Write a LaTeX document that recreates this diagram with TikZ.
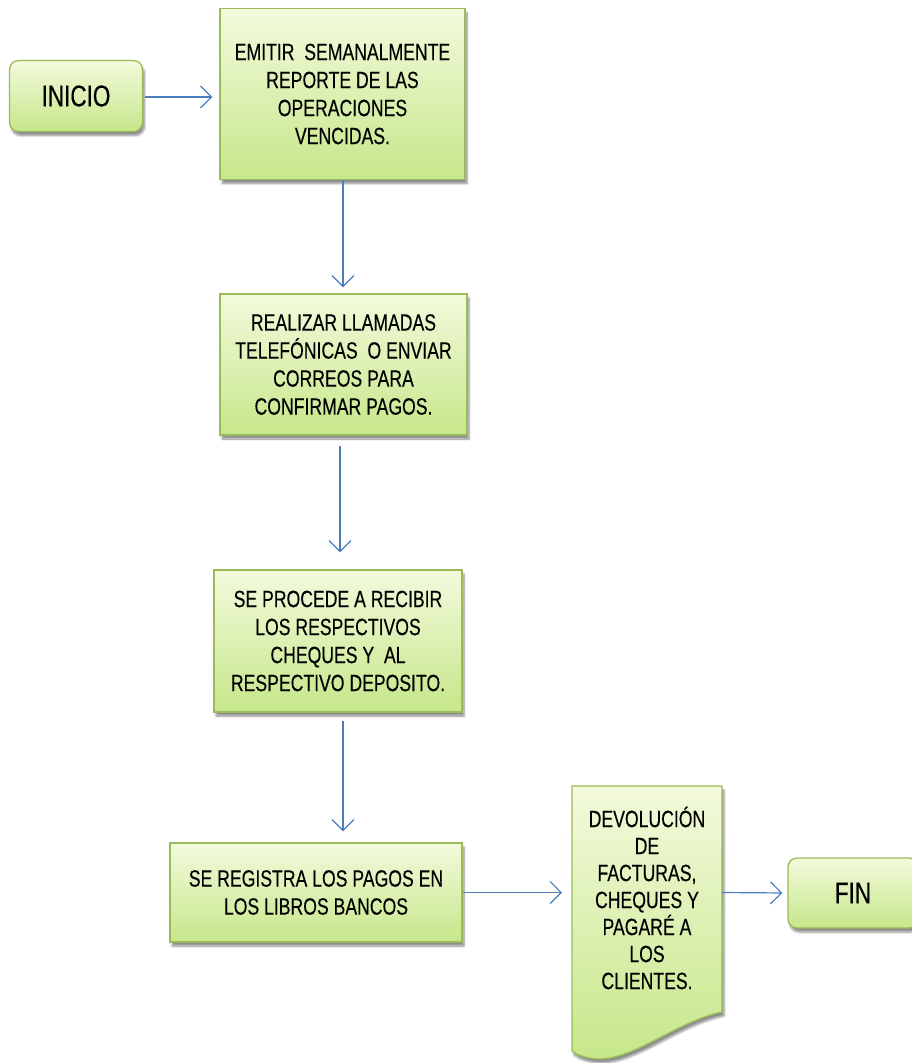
\documentclass[tikz,border=0pt]{standalone}
\usepackage{fontspec}
\setmainfont{Liberation Sans}[FakeStretch=0.75,FakeBold=0.3]
\usetikzlibrary{arrows.meta,shadows,shadows.blur}
\definecolor{boxborder}{HTML}{9BBB59}
\definecolor{gtop}{HTML}{F3FADC}
\definecolor{gbot}{HTML}{C6E78A}
\definecolor{flowblue}{HTML}{4A7EBB}
\tikzset{
  procbox/.style={draw=boxborder, line width=1.3pt, top color=gtop, bottom color=gbot,
    blur shadow={shadow xshift=2pt, shadow yshift=-4pt, shadow blur steps=6, shadow opacity=45},
    align=center, inner sep=0pt, text=black},
  termbox/.style={procbox, rounded corners=9pt, font=\fontsize{30}{32}\selectfont},
  flow/.style={draw=flowblue, line width=1.2pt, -{Straight Barb[length=11pt,width=22pt]}},
  steptext/.style={font=\fontsize{23.5}{28}\selectfont}
}
\begin{document}
\begin{tikzpicture}[x=1pt,y=-1pt]
\useasboundingbox (0,0) rectangle (912,1063);

% terminals
\node[termbox, minimum width=133pt, minimum height=71pt] (inicio) at (76,96) {INICIO};
\node[termbox, minimum width=130pt, minimum height=70pt] (fin) at (853,893) {FIN};

% process steps
\node[procbox, steptext, minimum width=245pt, minimum height=171pt] (b1) at (342.5,94)
  {EMITIR \ SEMANALMENTE\\REPORTE DE LAS\\OPERACIONES\\VENCIDAS.};
\node[procbox, steptext, minimum width=247pt, minimum height=141pt] (b2) at (343.5,364.5)
  {REALIZAR LLAMADAS\\TELEFÓNICAS \ O ENVIAR\\CORREOS PARA\\CONFIRMAR PAGOS.};
\node[procbox, steptext, minimum width=248pt, minimum height=142pt] (b3) at (338,641)
  {SE PROCEDE A RECIBIR\\LOS RESPECTIVOS\\CHEQUES Y \ AL\\RESPECTIVO DEPOSITO.};
\node[procbox, steptext, minimum width=292pt, minimum height=99pt] (b4) at (316,892.5)
  {SE REGISTRA LOS PAGOS EN\\LOS LIBROS BANCOS};

% document shape with wavy lower edge
\coordinate (dtl) at (572,786);
\coordinate (dtr) at (722,786);
\coordinate (dbr) at (722,1012);
\coordinate (dbl) at (572,1051);
\path[procbox] (dtl) -- (dtr) -- (dbr)
  .. controls (675,1022) and (635,1060) .. (597,1059)
  .. controls (585,1058) and (577,1055) .. (dbl) -- cycle;
\node[align=center, font=\fontsize{23.5}{27}\selectfont, text=black] (doc) at (647,898)
  {DEVOLUCIÓN\\DE\\FACTURAS,\\CHEQUES Y\\PAGARÉ A\\LOS\\CLIENTES.};

% connectors
\draw[flow, shorten <=2pt, shorten >=7pt] ([yshift=-1pt]inicio.east) -- ([yshift=-1pt]inicio.east -| b1.west);
\draw[flow, shorten >=6pt] ([xshift=0.5pt]b1.south) -- ([xshift=0.5pt]b1.south |- b2.north);
\draw[flow, shorten <=10pt, shorten >=17pt] ([xshift=-3.5pt]b2.south) -- ([xshift=-3.5pt]b2.south |- b3.north);
\draw[flow, shorten <=8pt, shorten >=11pt] ([xshift=5pt]b3.south) -- ([xshift=5pt]b3.south |- b4.north);
\draw[flow, shorten >=10pt] (b4.east) -- (b4.east -| dtl);
\draw[flow, shorten >=5pt] (b4.east -| dtr) -- (fin.west);
\end{tikzpicture}
\end{document}
